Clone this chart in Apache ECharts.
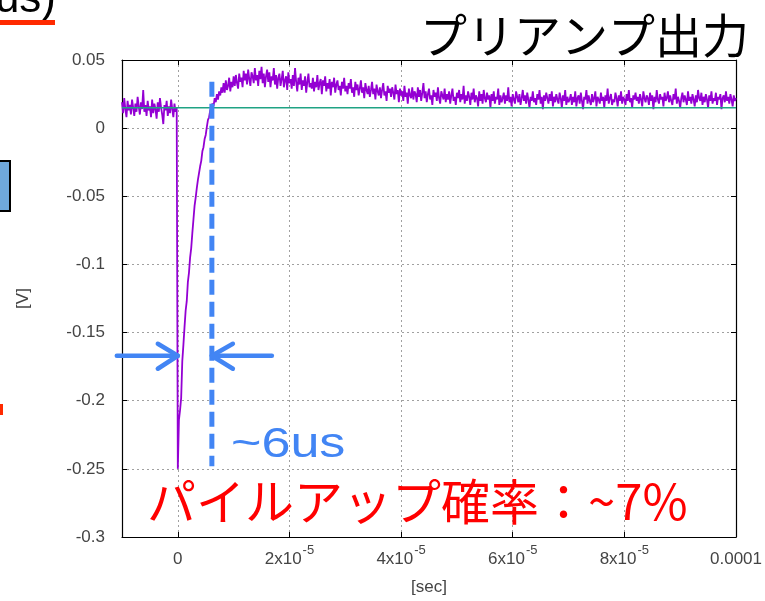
<!DOCTYPE html>
<html>
<head>
<meta charset="utf-8">
<script src="https://cdn.jsdelivr.net/npm/echarts@6/dist/echarts.min.js"></script>
<style>
  html, body { margin: 0; padding: 0; background: #ffffff; }
  #chart { width: 765px; height: 601px; }
</style>
</head>
<body>
<div id="chart"></div>
<script>
// Preamp output, sampled every 0.2 µs; values in millivolts.
const SAMPLE_STEP = 0.2e-6;
const PRE_START = -10e-6;

// Before the trigger (t = -10 µs ... -0.2 µs)
const preTriggerMv = [
  19, 11, 22, 14, 8, 20, 13, 17, 10, 21,
  15, 9, 18, 12, 23, 16, 10, 19, 14, 28,
  12, 17, 9, 20, 13, 16, 8, 21, 11, 18,
  14, 7, 19, 12, 22, 15, 10, 3, 17, 13,
  20, 9, 16, 11, 21, 14, 8, 18, 12, 15
];

// From the trigger onward (t = 0 ... 100 µs)
const pulseMv = [
  -250, -214, -207, -198, -171, -159, -146, -134, -127, -113,
  -106, -95, -88, -77, -67, -57, -51, -44, -38, -33,
  -28, -24, -17, -14, -8, -5, 1, 6, 8, 13,
  14, 18, 16, 22, 19, 25, 21, 27, 24, 30,
  26,
  33, 26, 35, 28, 31, 37, 27, 34, 30, 38,
  31, 39, 33, 29, 40, 34, 37, 30, 42, 35,
  40, 32, 43, 36, 31, 41, 38, 33, 44, 35,
  39, 31, 42, 36, 45, 33, 40, 30, 38, 43,
  34, 41, 30, 38, 35, 44, 32, 39, 29, 37,
  40, 31, 36, 42, 30, 35, 38, 28, 41, 33,
  36, 29, 39, 31, 44, 34, 27, 37, 32, 40,
  28, 35, 31, 38, 26, 34, 40, 30, 33, 29,
  37, 27, 34, 30, 39, 28, 33, 36, 25, 35,
  31, 38, 27, 33, 29, 36, 24, 34, 30, 37,
  26, 32, 35, 28, 31, 24, 34, 29, 37, 27,
  31, 25, 33, 29, 36, 26, 30, 23, 34, 28,
  32, 24, 29, 35, 26, 30, 22, 33, 28, 25,
  31, 23, 28, 34, 25, 29, 21, 32, 27, 24,
  30, 22, 28, 33, 24, 27, 20, 31, 26, 29,
  23, 30, 26, 21, 32, 25, 28, 19, 29, 24,
  27, 20, 31, 23, 26, 18, 29, 24, 22, 30,
  21, 27, 25, 19, 30, 23, 28, 20, 26, 33,
  22, 27, 19, 25, 29, 21, 24, 17, 28, 23,
  26, 20, 30, 22, 18, 27, 24, 21, 29, 19,
  25, 21, 27, 18, 24, 29, 20, 23, 17, 26,
  22, 28, 19, 25, 21, 31, 18, 24, 20, 27,
  23, 17, 26, 21, 29, 19, 24, 22, 16, 27,
  20, 25, 18, 28, 22, 19, 26, 21, 24, 15,
  25, 20, 27, 18, 23, 21, 29, 17, 24, 19,
  22, 26, 18, 24, 20, 30, 19, 23, 16, 25,
  21, 18, 27, 23, 19, 25, 17, 22, 28, 20,
  24, 18, 26, 21, 15, 23, 20, 27, 19, 22,
  17, 25, 21, 28, 18, 23, 14, 24, 20, 26,
  22, 18, 25, 20, 27, 16, 23, 19, 25, 21,
  18, 26, 22, 15, 24, 20, 28, 17, 23, 19,
  21, 25, 17, 23, 19, 27, 16, 22, 24, 18,
  26, 20, 14, 23, 21, 28, 18, 24, 20, 17,
  25, 19, 22, 27, 16, 23, 21, 18, 26, 20,
  23, 15, 24, 20, 29, 18, 22, 25, 17, 21,
  19, 26, 22, 16, 24, 20, 27, 18, 23, 21,
  17, 25, 20, 28, 19, 22, 15, 24, 21, 26,
  20, 23, 18, 25, 21, 16, 27, 22, 19, 24,
  22, 17, 26, 20, 24, 14, 23, 19, 28, 21,
  18, 25, 21, 23, 16, 26, 20, 22, 27, 19,
  24, 20, 17, 25, 21, 29, 18, 23, 20, 15,
  22, 26, 19, 24, 21, 17, 27, 20, 23, 18,
  25, 21, 16, 24, 19, 28, 22, 20, 26, 17,
  23, 19, 25, 21, 15, 24, 20, 27, 18, 22,
  20, 26, 17, 23, 21, 25, 14, 22, 24, 19,
  27, 20, 23, 18, 25, 21, 16, 24, 20, 22
];

// Baseline level (V)
const baselineV = 0.015;

// Rise-time marker: time (s) and vertical extent (V)
const riseMarkT = 6.1e-6;
const riseMarkTop = 0.034;
const riseMarkBottom = -0.248;
// Level of the width arrows (V)
const arrowLevelV = -0.167;

// Axis ticks
const xMin = -1e-5, xMax = 1e-4;
const xTickValues = [0, 2e-5, 4e-5, 6e-5, 8e-5, 1e-4];
const xTickLabels = ['0', '2x10^-5', '4x10^-5', '6x10^-5', '8x10^-5', '0.0001'];
const yMin = -0.3, yMax = 0.05;
const yTickValues = [-0.3, -0.25, -0.2, -0.15, -0.1, -0.05, 0, 0.05];
const yTickLabels = ['-0.3', '-0.25', '-0.2', '-0.15', '-0.1', '-0.05', '0', '0.05'];

const waveform = preTriggerMv.map((v, i) => [PRE_START + i * SAMPLE_STEP, v / 1000])
  .concat(pulseMv.map((v, i) => [i * SAMPLE_STEP, v / 1000]));

const LABEL_FONT = '"Liberation Sans", Arial, sans-serif';
const JP_FONT = '"Noto Sans CJK JP", "Noto Sans", sans-serif';
const GRAY = '#444444';
const BLUE = '#4285F4';

function nearestLabel(values, labels, v) {
  let best = 0;
  for (let i = 1; i < values.length; i++) {
    if (Math.abs(values[i] - v) < Math.abs(values[best] - v)) best = i;
  }
  return labels[best];
}

const tickCommon = { show: true, inside: true, length: 5, lineStyle: { color: '#000', width: 1 } };
const dotted = { show: true, lineStyle: { color: '#a0a0a0', width: 1, type: [2, 3] } };

const chart = echarts.init(document.getElementById('chart'), null, { renderer: 'canvas' });

chart.setOption({
  animation: false,
  backgroundColor: '#ffffff',
  grid: { left: 122, right: 27, top: 60, bottom: 64, containLabel: false },
  xAxis: [
    {
      type: 'value', position: 'bottom', min: xMin, max: xMax,
      name: '[sec]', nameLocation: 'middle', nameGap: 42,
      nameTextStyle: { color: GRAY, fontSize: 17, fontFamily: LABEL_FONT },
      axisLine: { show: true, onZero: false, lineStyle: { color: '#000', width: 1.2 } },
      axisTick: Object.assign({ customValues: xTickValues }, tickCommon),
      splitLine: dotted,
      axisLabel: {
        customValues: xTickValues, margin: 7, color: GRAY, fontFamily: LABEL_FONT, fontSize: 17,
        formatter: (v) => {
          const s = nearestLabel(xTickValues, xTickLabels, v);
          const parts = s.split('^');
          return parts.length === 2 ? '{b|' + parts[0] + '}{s|' + parts[1] + '}' : '{b|' + s + '}';
        },
        rich: {
          b: { fontSize: 17, fontFamily: LABEL_FONT, color: GRAY, padding: [7, 0, 0, 0], verticalAlign: 'bottom' },
          s: { fontSize: 13, fontFamily: LABEL_FONT, color: GRAY, verticalAlign: 'top', padding: [0, 0, 0, 1] }
        }
      }
    },
    {
      type: 'value', position: 'top', min: xMin, max: xMax,
      axisLine: { show: true, onZero: false, lineStyle: { color: '#000', width: 1.2 } },
      axisTick: Object.assign({ customValues: xTickValues }, tickCommon),
      axisLabel: { show: false },
      splitLine: { show: false }
    }
  ],
  yAxis: [
    {
      type: 'value', position: 'left', min: yMin, max: yMax,
      name: '[V]', nameLocation: 'middle', nameGap: 90,
      nameTextStyle: { color: GRAY, fontSize: 17, fontFamily: LABEL_FONT },
      axisLine: { show: true, onZero: false, lineStyle: { color: '#000', width: 1.2 } },
      axisTick: Object.assign({ customValues: yTickValues }, tickCommon),
      splitLine: dotted,
      axisLabel: {
        customValues: yTickValues, margin: 17, color: GRAY, fontFamily: LABEL_FONT, fontSize: 17,
        formatter: (v) => nearestLabel(yTickValues, yTickLabels, v)
      }
    },
    {
      type: 'value', position: 'right', min: yMin, max: yMax,
      axisLine: { show: true, onZero: false, lineStyle: { color: '#000', width: 1.2 } },
      axisTick: Object.assign({ customValues: yTickValues }, tickCommon),
      axisLabel: { show: false },
      splitLine: { show: false }
    }
  ],
  series: [
    {
      name: 'preamp', type: 'line', data: waveform, showSymbol: false,
      lineStyle: { color: '#9400D3', width: 1.8 }, z: 2
    },
    {
      name: 'baseline', type: 'line', data: [[xMin, baselineV], [xMax, baselineV]], showSymbol: false,
      lineStyle: { color: '#1FA384', width: 1.5 }, z: 3
    },
    {
      name: 'rise', type: 'line', data: [[riseMarkT, riseMarkTop], [riseMarkT, riseMarkBottom]], showSymbol: false,
      lineStyle: { color: BLUE, width: 5, type: [15, 7] }, z: 4
    }
  ]
});

// Arrows pointing at the start of the pulse and the rise marker
const tipL = chart.convertToPixel({ xAxisIndex: 0, yAxisIndex: 0 }, [0, arrowLevelV]);
const tipR = chart.convertToPixel({ xAxisIndex: 0, yAxisIndex: 0 }, [riseMarkT, arrowLevelV]);
const arrowStyle = { stroke: BLUE, lineWidth: 4.5, fill: null, lineCap: 'round', lineJoin: 'round' };

chart.setOption({
  graphic: [
    // partial heading above the chart
    { type: 'text', right: 709, top: -22, z: 10,
      style: { text: 'us)', font: '44px "Liberation Sans", Arial, sans-serif', fill: '#000' } },
    { type: 'rect', shape: { x: 0, y: 20, width: 55, height: 5 }, style: { fill: '#FF2A00' }, z: 10 },
    { type: 'rect', shape: { x: -10, y: 161, width: 20, height: 50 },
      style: { fill: '#6FA8DC', stroke: '#000', lineWidth: 2 }, z: 10 },
    { type: 'rect', shape: { x: 0, y: 404, width: 3, height: 11 }, style: { fill: '#FF2A00' }, z: 10 },
    // title
    { type: 'text', x: 420, y: 12, z: 10,
      style: { text: 'プリアンプ出力', font: '47px ' + JP_FONT, fill: '#000' } },
    // annotations
    { type: 'text', x: 231, y: 424, scaleX: 1.24, z: 10,
      style: { text: '~6us', font: '42px "Liberation Sans", Arial, sans-serif', fill: BLUE } },
    { type: 'text', x: 147, y: 477, z: 10,
      style: { text: 'パイルアップ確率：~7%', font: '49px ' + JP_FONT, fill: '#FF0000' } },
    // arrows
    { type: 'polyline', z: 10, shape: { points: [[tipL[0] - 61, tipL[1]], [tipL[0], tipL[1]]] }, style: arrowStyle },
    { type: 'polyline', z: 10, shape: { points: [[tipL[0] - 20, tipL[1] - 12], [tipL[0], tipL[1]], [tipL[0] - 20, tipL[1] + 13]] }, style: arrowStyle },
    { type: 'polyline', z: 10, shape: { points: [[tipR[0] + 60, tipR[1]], [tipR[0], tipR[1]]] }, style: arrowStyle },
    { type: 'polyline', z: 10, shape: { points: [[tipR[0] + 21, tipR[1] - 12], [tipR[0], tipR[1]], [tipR[0] + 21, tipR[1] + 13]] }, style: arrowStyle }
  ]
});
</script>
</body>
</html>
